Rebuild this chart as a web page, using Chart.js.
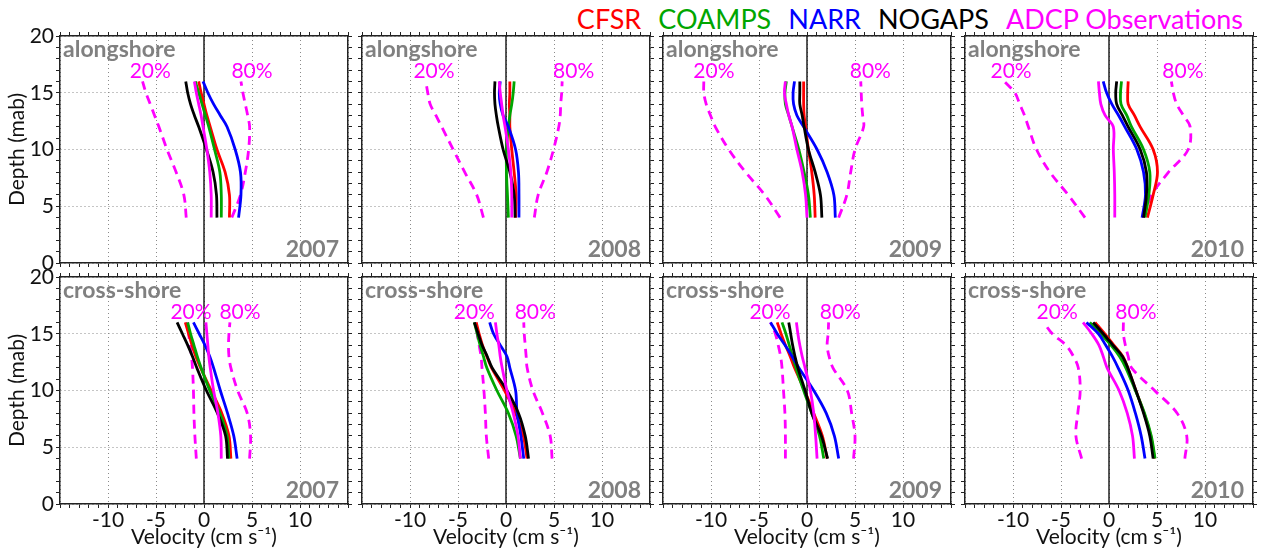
<!DOCTYPE html>
<html>
<head>
<meta charset="utf-8">
<title>Velocity profiles 2007-2010</title>
<script src="https://cdn.jsdelivr.net/npm/chart.js@4.4.1/dist/chart.umd.min.js"></script>
<style>
  html, body { margin: 0; padding: 0; background: #fff; }
  #wrap { position: relative; width: 1266px; height: 551px; overflow: hidden; font-family: Lato, sans-serif; }
  .panel { position: absolute; }
  #legend { position: absolute; top: 3px; right: 23px; font-size: 27px; line-height: 31px; white-space: nowrap; }
  #legend span { margin-left: 17px; }
</style>
</head>
<body>
<div id="wrap">
  <div id="legend"></div>
</div>
<script>
/* =========================
   DATA (velocity in cm/s, read per depth)
========================= */
const depths = [4, 6, 8, 10, 12, 13, 14, 15, 16];
const years = ["2007", "2008", "2009", "2010"];
const components = ["alongshore", "cross-shore"];
const velocityTicks = [-10, -5, 0, 5, 10];
const depthTicks = [0, 5, 10, 15, 20];
const zeroLineDepths = [0, 20];

// alongshore, one row per year
const cfsrAlong = [
  [2.65, 2.65, 2.2, 1.35, 0.65, 0.3, 0, -0.3, -0.55],
  [1.0, 1.05, 0.85, 0.6, 0.4, 0.4, 0.35, 0.4, 0.4],
  [0.85, 0.75, 0.5, 0.15, -0.15, -0.3, -0.35, -0.35, -0.35],
  [4.0, 4.6, 5.05, 4.6, 3.25, 2.65, 2.0, 1.95, 2.0]
];
const coampsAlong = [
  [1.8, 1.8, 1.65, 1.1, 0.5, 0.15, -0.2, -0.55, -0.9],
  [0.25, 0.15, 0.05, 0.05, 0.25, 0.4, 0.6, 0.75, 0.85],
  [0.35, 0.15, -0.3, -0.85, -1.55, -1.9, -2.25, -2.3, -2.15],
  [3.75, 4.15, 4.25, 3.6, 2.35, 1.85, 1.25, 1.2, 1.3]
];
const narrAlong = [
  [3.6, 3.85, 3.8, 3.25, 2.4, 1.7, 1.0, 0.4, -0.1],
  [1.35, 1.35, 1.3, 1.0, 0.25, -0.3, -0.6, -0.7, -0.6],
  [2.95, 2.8, 2.1, 1.05, -0.35, -1.05, -1.4, -1.45, -1.3],
  [3.45, 3.8, 3.6, 2.9, 1.65, 1.0, 0.3, -0.25, -0.6]
];
const nogapsAlong = [
  [1.35, 1.3, 0.95, 0.25, -0.55, -1.0, -1.4, -1.7, -1.9],
  [0.95, 0.85, 0.4, -0.3, -0.8, -1.0, -1.15, -1.2, -1.15],
  [1.55, 1.4, 0.85, 0.15, -0.3, -0.5, -0.75, -0.75, -0.75],
  [3.6, 3.9, 3.9, 3.25, 2.0, 1.4, 0.8, 0.7, 0.8]
];
const adcpAlong = [
  [0.75, 0.75, 0.6, 0.3, -0.1, -0.3, -0.55, -0.8, -1.0],
  [0.6, 0.6, 0.5, 0.25, -0.1, -0.3, -0.45, -0.6, -0.7],
  [0, -0.15, -0.5, -1.05, -1.55, -1.9, -2.15, -2.35, -2.25],
  [0.6, 0.6, 0.55, 0.45, 0.45, -0.4, -0.85, -1.0, -1.1]
];
const adcp20Along = [
  [-1.85, -2.1, -2.9, -3.85, -4.7, -5.15, -5.6, -6.05, -6.4],
  [-2.35, -3.05, -4.3, -5.5, -6.7, -7.3, -7.9, -8.15, -8.35],
  [-2.8, -4.4, -6.4, -8.15, -9.55, -10.05, -10.5, -10.75, -10.75],
  [-2.5, -4.25, -6.15, -7.55, -8.4, -8.8, -9.3, -9.8, -10.9]
];
const adcp80Along = [
  [2.9, 3.8, 4.3, 4.65, 4.75, 4.55, 4.3, 4.05, 3.85],
  [2.95, 3.35, 4.25, 4.95, 5.5, 5.65, 5.7, 5.8, 5.85],
  [3.3, 4.15, 4.55, 5.0, 5.9, 5.8, 5.7, 5.65, 5.6],
  [3.6, 4.45, 6.2, 8.25, 8.45, 7.75, 7.05, 6.7, 6.5]
];

// cross-shore, one row per year
const cfsrCross = [
  [2.8, 2.6, 1.85, 0.75, -0.35, -0.85, -1.25, -1.6, -1.95],
  [2.2, 1.8, 1.0, -0.15, -1.5, -2.0, -2.45, -2.8, -3.1],
  [2.1, 1.6, 0.7, -0.25, -1.3, -1.75, -2.25, -2.7, -3.1],
  [4.75, 4.35, 3.65, 2.8, 1.95, 1.45, 0.5, -0.45, -1.45]
];
const coampsCross = [
  [2.6, 2.4, 1.65, 0.6, -0.3, -0.7, -1.05, -1.4, -1.7],
  [1.5, 1.05, 0.25, -0.95, -2.0, -2.35, -2.7, -3.0, -3.3],
  [1.75, 1.3, 0.5, -0.35, -1.15, -1.5, -1.85, -2.2, -2.6],
  [4.8, 4.4, 3.7, 2.75, 1.75, 1.1, 0.2, -0.9, -2.0]
];
const narrCross = [
  [3.45, 3.1, 2.45, 1.7, 1.0, 0.6, 0.1, -0.5, -1.1],
  [1.85, 1.55, 1.15, 1.0, 0.4, 0.1, -0.6, -1.3, -1.7],
  [3.3, 2.85, 2.0, 0.7, -0.85, -1.55, -2.3, -3.1, -3.8],
  [3.75, 3.35, 2.75, 2.0, 0.95, 0.35, -0.35, -1.1, -2.35]
];
const nogapsCross = [
  [2.45, 2.25, 1.4, 0.25, -0.75, -1.2, -1.7, -2.25, -2.8],
  [2.35, 2.0, 1.3, 0.1, -1.45, -1.95, -2.5, -2.9, -3.3],
  [2.15, 1.5, 0.5, -0.2, -0.95, -1.25, -1.5, -1.7, -1.9],
  [4.6, 4.25, 3.6, 2.8, 1.95, 1.4, 0.4, -0.6, -1.65]
];
const adcpCross = [
  [1.8, 1.75, 1.45, 1.0, 0.65, 0.5, 0.4, 0.3, 0.2],
  [1.5, 1.25, 0.75, 0.1, -0.4, -0.6, -0.75, -0.95, -1.1],
  [1.05, 0.9, 0.7, 0.35, -0.2, -0.5, -0.75, -0.95, -1.1],
  [2.65, 2.45, 1.9, 1.05, -0.2, -0.6, -1.05, -1.8, -2.7]
];
const adcp20Cross = [
  [-0.8, -0.95, -1.05, -1.1, -1.2, -1.3, -1.45, -1.6, -1.75],
  [-1.8, -2.05, -2.15, -2.3, -2.5, -2.6, -2.8, -3.0, -3.2],
  [-2.25, -2.25, -2.3, -2.45, -2.6, -2.75, -3.0, -3.3, -3.8],
  [-2.85, -3.45, -3.25, -3.0, -3.2, -3.7, -4.5, -5.9, -6.8]
];
const adcp80Cross = [
  [4.75, 4.85, 4.5, 3.5, 2.8, 2.6, 2.55, 2.6, 2.7],
  [4.8, 4.6, 3.8, 2.8, 2.2, 2.1, 2.0, 1.9, 1.85],
  [4.85, 5.0, 4.65, 4.2, 2.7, 2.3, 2.1, 2.2, 2.25],
  [7.9, 8.1, 7.1, 4.75, 2.35, 2.0, 1.7, 1.5, 1.5]
];

// where the "20%" / "80%" labels sit (velocity), per year
const pct20LabelAlong = [-5.6, -7.5, -9.7, -10.2];
const pct80LabelAlong = [5.0, 7.05, 6.6, 7.7];
const pct20LabelCross = [-1.35, -3.3, -3.85, -5.4];
const pct80LabelCross = [3.75, 3.05, 3.47, 2.8];
const pctLabelDepth = 16.3;

/* =========================
   STYLE
========================= */
const FONT = "Lato, 'Open Sans', sans-serif";
const MAGENTA = "#ff00ff";
const GRAY_TEXT = "#808080";

// drawn first = on top
const series = [
  { name: "ADCP Observations", color: MAGENTA, along: adcpAlong, cross: adcpCross },
  { name: "NOGAPS", color: "#000000", along: nogapsAlong, cross: nogapsCross },
  { name: "NARR", color: "#0000ff", along: narrAlong, cross: narrCross },
  { name: "COAMPS", color: "#00a600", along: coampsAlong, cross: coampsCross },
  { name: "CFSR", color: "#ff0000", along: cfsrAlong, cross: cfsrCross }
];
const legendOrder = ["CFSR", "COAMPS", "NARR", "NOGAPS", "ADCP Observations"];

const panelLefts = [60, 362, 663, 965];
const panelTops = [36, 277];
const PANEL_W = 288;
const PANEL_H = 227;

/* =========================
   LEGEND
========================= */
function renderLegend() {
  const box = document.getElementById("legend");
  legendOrder.forEach(name => {
    const s = series.find(d => d.name === name);
    const span = document.createElement("span");
    span.textContent = name;
    span.style.color = s.color;
    box.appendChild(span);
  });
}

/* =========================
   TEXT INSIDE PANELS
========================= */
const panelTextPlugin = {
  id: "panelText",
  afterDatasetsDraw(chart, args, opts) {
    const { ctx, chartArea } = chart;
    const xs = chart.scales.x;
    const ys = chart.scales.y;
    ctx.save();
    ctx.fillStyle = GRAY_TEXT;
    ctx.font = "bold 23px " + FONT;
    ctx.textBaseline = "alphabetic";
    ctx.textAlign = "left";
    ctx.fillText(opts.component, chartArea.left + 3, chartArea.top + 21);
    ctx.textAlign = "right";
    ctx.fillText(opts.year, chartArea.right - 9, chartArea.bottom - 6);

    ctx.fillStyle = MAGENTA;
    ctx.font = "21px " + FONT;
    ctx.textAlign = "center";
    const yp = ys.getPixelForValue(pctLabelDepth);
    ctx.fillText("20%", xs.getPixelForValue(opts.p20), yp);
    ctx.fillText("80%", xs.getPixelForValue(opts.p80), yp);
    ctx.restore();
  }
};

/* =========================
   SCALES
========================= */
function gridColor(ctx) {
  if (!ctx.tick) return "rgba(0,0,0,0)";
  return ctx.tick.value % 5 === 0 ? "#8a8a8a" : "rgba(0,0,0,0)";
}

function makeScales(row, col, pad) {
  const axisBase = {
    type: "linear",
    border: { color: "#222", width: 1.5, dash: [1, 3] },
    grid: { color: gridColor, lineWidth: 1, tickLength: 4, tickColor: "#222", tickWidth: 1 }
  };
  const tickFont = { family: FONT, size: 21 };

  return {
    x: {
      ...axisBase,
      position: "bottom",
      min: -15, max: 15,
      ticks: {
        display: row === 1, stepSize: 1, autoSkip: false, maxRotation: 0,
        padding: 0, color: "#111", font: tickFont,
        callback: v => velocityTicks.includes(v) ? String(v) : ""
      },
      title: {
        display: row === 1, text: "Velocity (cm s\u207B\u00B9)", color: "#111",
        font: { family: FONT, size: 21 }, padding: { top: 0, bottom: 1 }
      },
      afterFit: s => { s.height = pad.b; }
    },
    x2: {
      ...axisBase,
      axis: "x",
      position: "top",
      min: -15, max: 15,
      grid: { ...axisBase.grid, drawOnChartArea: false },
      ticks: { display: false, stepSize: 1, autoSkip: false },
      afterFit: s => { s.height = pad.t; }
    },
    y: {
      ...axisBase,
      position: "left",
      min: 0, max: 20,
      ticks: {
        display: col === 0, stepSize: 1, autoSkip: false,
        padding: 2, color: "#111", font: tickFont,
        callback: v => depthTicks.includes(v) ? String(v) : ""
      },
      title: {
        display: col === 0, text: "Depth (mab)", color: "#111",
        font: { family: FONT, size: 21 }, padding: { top: 5, bottom: 0 }
      },
      afterFit: s => { s.width = pad.l; }
    },
    y2: {
      ...axisBase,
      axis: "y",
      position: "right",
      min: 0, max: 20,
      grid: { ...axisBase.grid, drawOnChartArea: false },
      ticks: { display: false, stepSize: 1, autoSkip: false },
      afterFit: s => { s.width = pad.r; }
    }
  };
}

/* =========================
   DATASETS
========================= */
function profile(values) {
  return values.map((v, i) => ({ x: v, y: depths[i] }));
}

function makeDatasets(row, col) {
  const key = row === 0 ? "along" : "cross";
  const sets = series.map(s => ({
    label: s.name,
    data: profile(s[key][col]),
    borderColor: s.color,
    borderWidth: 2.8,
    tension: 0.35
  }));
  const p20 = row === 0 ? adcp20Along : adcp20Cross;
  const p80 = row === 0 ? adcp80Along : adcp80Cross;
  [p20, p80].forEach((arr, k) => {
    sets.push({
      label: k === 0 ? "20%" : "80%",
      data: profile(arr[col]),
      borderColor: MAGENTA,
      borderWidth: 2.8,
      borderDash: [9, 6],
      tension: 0.35
    });
  });
  sets.push({
    label: "zero",
    data: zeroLineDepths.map(d => ({ x: 0, y: d })),
    borderColor: "#111",
    borderWidth: 1.4,
    tension: 0
  });
  return sets;
}

/* =========================
   BUILD PANELS
========================= */
function buildPanels() {
  const wrap = document.getElementById("wrap");
  components.forEach((comp, row) => {
    years.forEach((year, col) => {
      const pad = { l: col === 0 ? 60 : 8, r: 8, t: 16, b: row === 1 ? 47 : 16 };
      const w = PANEL_W + pad.l + pad.r;
      const h = PANEL_H + pad.t + pad.b;
      const holder = document.createElement("div");
      holder.className = "panel";
      holder.style.left = (panelLefts[col] - pad.l) + "px";
      holder.style.top = (panelTops[row] - pad.t) + "px";
      holder.style.width = w + "px";
      holder.style.height = h + "px";
      const canvas = document.createElement("canvas");
      canvas.width = w;
      canvas.height = h;
      canvas.style.width = w + "px";
      canvas.style.height = h + "px";
      holder.appendChild(canvas);
      wrap.appendChild(holder);

      new Chart(canvas, {
        type: "scatter",
        data: { datasets: makeDatasets(row, col) },
        options: {
          responsive: false,
          animation: false,
          devicePixelRatio: 1,
          showLine: true,
          layout: { padding: 0 },
          elements: { point: { radius: 0 }, line: { fill: false } },
          plugins: {
            legend: { display: false },
            tooltip: { enabled: false },
            panelText: {
              component: comp,
              year: year,
              p20: row === 0 ? pct20LabelAlong[col] : pct20LabelCross[col],
              p80: row === 0 ? pct80LabelAlong[col] : pct80LabelCross[col]
            }
          },
          scales: makeScales(row, col, pad)
        },
        plugins: [panelTextPlugin]
      });
    });
  });
}

document.addEventListener("DOMContentLoaded", () => {
  renderLegend();
  const ready = document.fonts && document.fonts.load
    ? Promise.all([document.fonts.load("21px Lato"), document.fonts.load("bold 23px Lato")]).catch(() => {})
    : Promise.resolve();
  ready.then(buildPanels);
});
</script>
</body>
</html>
